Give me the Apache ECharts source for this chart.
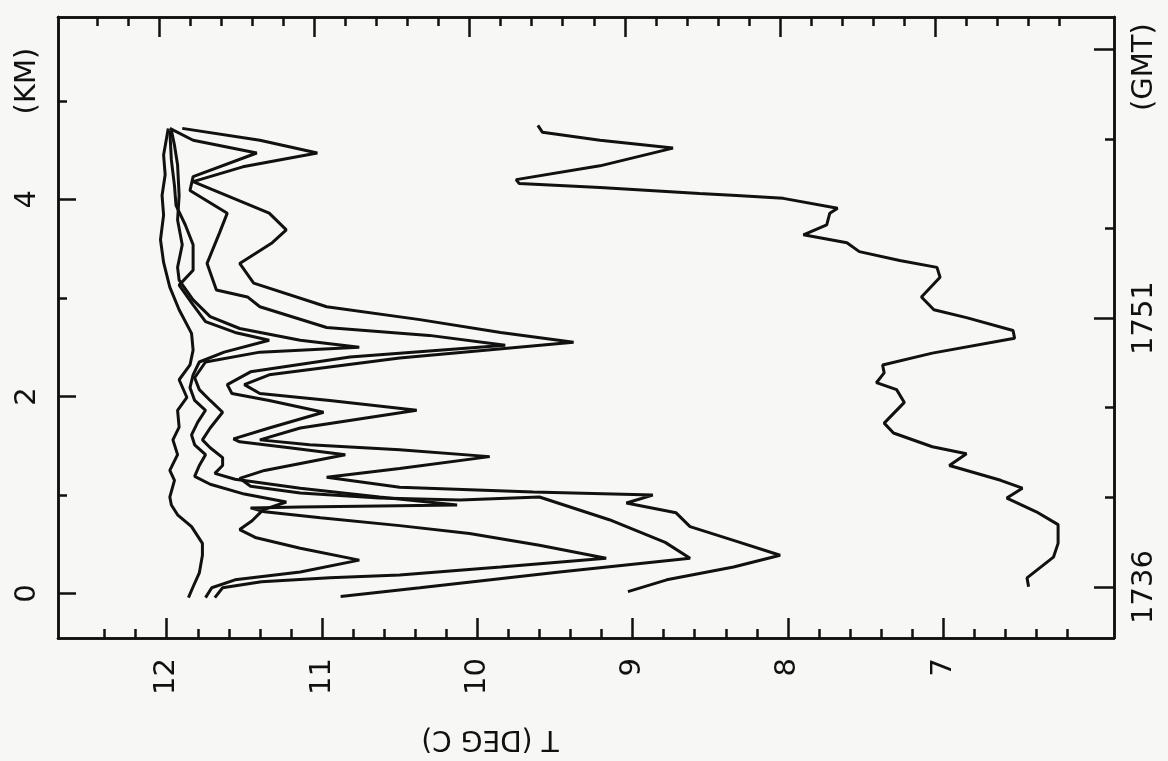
<!DOCTYPE html>
<html>
<head>
<meta charset="utf-8">
<script src="https://cdn.jsdelivr.net/npm/echarts@6/dist/echarts.min.js"></script>
<style>
  html, body { margin: 0; padding: 0; background: #f7f7f5; }
  #chart { width: 1168px; height: 761px; }
</style>
</head>
<body>
<div id="chart"></div>
<script>
// tick values
const tempMajor = [7, 8, 9, 10, 11, 12];
const tempMinor = [6.2, 6.4, 6.6, 6.8, 7.2, 7.4, 7.6, 7.8, 8.2, 8.4, 8.6, 8.8,
  9.2, 9.4, 9.6, 9.8, 10.2, 10.4, 10.6, 10.8, 11.2, 11.4, 11.6, 11.8, 12.2, 12.4];
const kmMajor = [0, 2, 4];
const kmMinor = [1, 3, 5];
const kmLabels = [0, 2, 4, 5.2];
// GMT axis in minutes after 17:36
const gmtMajor = [0, 15, 30];
const gmtMinor = [5, 10, 20, 25];
const gmtLabels = [0, 15, 29];
const gmtNames = { 0: "1736", 15: "1751", 29: "(GMT)" };

// profiles: [T (deg C), height (km)]
const profile1 = [[11.86, -0.04], [11.83, 0.07], [11.79, 0.21], [11.77, 0.39], [11.77, 0.51],
  [11.84, 0.68], [11.93, 0.80], [11.97, 0.90], [11.98, 0.98], [11.95, 1.15], [11.98, 1.25],
  [11.93, 1.41], [11.96, 1.56], [11.92, 1.69], [11.93, 1.86], [11.87, 1.99], [11.92, 2.17],
  [11.85, 2.32], [11.83, 2.47], [11.84, 2.64], [11.92, 2.88], [11.98, 3.11], [12.02, 3.36],
  [12.04, 3.59], [12.02, 3.84], [12.03, 4.04], [12.01, 4.25], [12.02, 4.45], [11.99, 4.72]];
const profile2 = [[11.75, -0.04], [11.71, 0.06], [11.56, 0.14], [11.14, 0.22], [10.76, 0.34],
  [11.14, 0.46], [11.43, 0.57], [11.53, 0.65], [11.45, 0.74], [11.38, 0.85], [11.23, 0.93],
  [11.50, 1.01], [11.72, 1.11], [11.82, 1.19], [11.79, 1.30], [11.75, 1.41], [11.82, 1.51],
  [11.84, 1.61], [11.80, 1.74], [11.75, 1.86], [11.82, 1.96], [11.85, 2.09], [11.83, 2.22],
  [11.79, 2.35], [11.63, 2.45], [11.34, 2.57], [11.56, 2.65], [11.75, 2.76], [11.83, 2.93],
  [11.92, 3.13], [11.83, 3.28], [11.83, 3.54], [11.88, 3.74], [11.94, 3.94], [11.95, 4.14],
  [11.97, 4.40], [11.98, 4.70]];
const profile3 = [[11.69, -0.04], [11.64, 0.06], [11.39, 0.12], [10.95, 0.16], [10.50, 0.19],
  [9.85, 0.27], [9.17, 0.36], [9.60, 0.49], [10.05, 0.61], [10.50, 0.69], [11.01, 0.77],
  [11.37, 0.83], [11.46, 0.87], [11.14, 0.88], [10.13, 0.90], [10.63, 0.98], [11.14, 1.07],
  [11.56, 1.16], [11.69, 1.22], [11.64, 1.30], [11.64, 1.38], [11.72, 1.48], [11.77, 1.56],
  [11.72, 1.68], [11.64, 1.84], [11.72, 1.96], [11.79, 2.07], [11.82, 2.19], [11.75, 2.35],
  [11.40, 2.45], [10.76, 2.50], [11.14, 2.57], [11.53, 2.69], [11.72, 2.81], [11.83, 2.98],
  [11.92, 3.18], [11.93, 3.31], [11.90, 3.54], [11.93, 3.79], [11.92, 4.04], [11.93, 4.35],
  [11.95, 4.55], [11.97, 4.70]];
const profile4 = [[10.88, -0.03], [10.37, 0.06], [9.47, 0.22], [8.63, 0.36], [8.79, 0.52],
  [9.15, 0.75], [9.60, 0.98], [10.11, 0.95], [10.63, 0.97], [11.14, 1.02], [11.46, 1.09],
  [11.53, 1.17], [11.37, 1.25], [10.85, 1.41], [11.21, 1.48], [11.53, 1.54], [11.57, 1.57],
  [11.34, 1.68], [10.99, 1.84], [11.34, 1.96], [11.58, 2.03], [11.61, 2.12], [11.46, 2.25],
  [10.82, 2.40], [9.82, 2.52], [10.31, 2.62], [10.97, 2.70], [11.40, 2.91], [11.48, 3.01],
  [11.68, 3.08], [11.74, 3.35], [11.66, 3.66], [11.61, 3.86], [11.85, 4.09], [11.83, 4.23],
  [11.42, 4.47], [11.83, 4.60], [11.98, 4.72]];
const profile5 = [[9.03, 0.02], [8.78, 0.14], [8.35, 0.27], [8.05, 0.39], [8.35, 0.54],
  [8.63, 0.68], [8.72, 0.82], [9.04, 0.92], [8.87, 1.00], [9.64, 1.03], [10.50, 1.08],
  [10.97, 1.18], [10.50, 1.27], [9.92, 1.39], [10.50, 1.46], [11.08, 1.51], [11.40, 1.56],
  [11.14, 1.68], [10.39, 1.86], [10.95, 1.96], [11.40, 2.03], [11.50, 2.12], [11.34, 2.22],
  [10.50, 2.39], [9.38, 2.55], [9.85, 2.65], [10.37, 2.78], [10.97, 2.91], [11.44, 3.15],
  [11.53, 3.35], [11.32, 3.56], [11.23, 3.69], [11.34, 3.86], [11.83, 4.18], [11.51, 4.33],
  [11.03, 4.47], [11.40, 4.60], [11.90, 4.72]];
const profile6 = [[6.45, 0.07], [6.46, 0.16], [6.29, 0.37], [6.26, 0.51], [6.26, 0.70],
  [6.40, 0.83], [6.59, 0.97], [6.49, 1.07], [6.63, 1.15], [6.96, 1.30], [6.85, 1.42],
  [7.07, 1.49], [7.32, 1.63], [7.38, 1.73], [7.25, 1.94], [7.30, 2.07], [7.43, 2.14],
  [7.38, 2.24], [7.39, 2.32], [7.07, 2.44], [6.54, 2.59], [6.55, 2.67], [6.85, 2.80],
  [7.06, 2.88], [7.14, 3.01], [7.02, 3.21], [7.04, 3.31], [7.28, 3.38], [7.54, 3.47],
  [7.62, 3.56], [7.90, 3.64], [7.75, 3.74], [7.73, 3.86], [7.68, 3.91], [8.03, 4.01],
  [8.33, 4.04], [8.57, 4.06], [9.21, 4.12], [9.73, 4.16], [9.75, 4.20], [9.21, 4.34],
  [8.74, 4.52], [9.21, 4.60], [9.58, 4.68], [9.61, 4.75]];

const ink = "#111111";
const font = "DejaVu Sans";

var myChart = echarts.init(document.getElementById("chart"));

function frameAxis(extra) {
  return Object.assign({
    type: "value",
    axisLine: { show: true, onZero: false, lineStyle: { color: ink, width: 2.5 } },
    splitLine: { show: false },
    axisLabel: { show: false },
  }, extra);
}

function ticks(values, len) {
  return {
    show: true,
    inside: true,
    length: len,
    customValues: values,
    lineStyle: { color: ink, width: 2.5 },
  };
}

const tempRange = { min: 5.9, max: 12.7, inverse: true };
// the top edge of the scanned frame sits a little to the left
const tempRangeTop = { min: 5.85, max: 12.65, inverse: true };
const kmRange = { min: -0.45, max: 5.85 };
const gmtRange = { min: -2.84, max: 31.79 };

var option = {
  backgroundColor: "#f7f7f5",
  animation: false,
  grid: { left: 58, right: 54, top: 17, bottom: 123 },
  xAxis: [
    frameAxis(Object.assign({
      position: "bottom",
      axisTick: ticks(tempMajor, 20),
      axisLabel: {
        show: true,
        customValues: tempMajor,
        rotate: 90,
        margin: 20,
        color: ink,
        fontFamily: font,
        fontSize: 29,
      },
      name: "T (DEG C)",
      nameLocation: "middle",
      nameRotate: 180,
      nameGap: 86,
      nameTextStyle: { color: ink, fontFamily: font, fontSize: 28, padding: [0, 0, 0, 192] },
    }, tempRange)),
    frameAxis(Object.assign({ position: "bottom", axisTick: ticks(tempMinor, 9) }, tempRange)),
    frameAxis(Object.assign({ position: "top", axisTick: ticks(tempMajor, 20) }, tempRangeTop)),
    frameAxis(Object.assign({ position: "top", axisTick: ticks(tempMinor, 9) }, tempRangeTop)),
  ],
  yAxis: [
    frameAxis(Object.assign({
      position: "left",
      axisTick: ticks(kmMajor, 18),
      axisLabel: {
        show: true,
        customValues: kmLabels,
        rotate: 90,
        margin: 16,
        color: ink,
        fontFamily: font,
        fontSize: 29,
        formatter: function(v) {
          return v === 5.2 ? "(KM)" : String(v);
        },
      },
    }, kmRange)),
    frameAxis(Object.assign({ position: "left", axisTick: ticks(kmMinor, 9) }, kmRange)),
    frameAxis(Object.assign({
      position: "right",
      axisTick: ticks(gmtMajor, 20),
      axisLabel: {
        show: true,
        customValues: gmtLabels,
        rotate: 90,
        margin: 16,
        color: ink,
        fontFamily: font,
        fontSize: 29,
        formatter: function(v) {
          return gmtNames[v];
        },
      },
    }, gmtRange)),
    frameAxis(Object.assign({ position: "right", axisTick: ticks(gmtMinor, 9) }, gmtRange)),
  ],
  series: [profile1, profile2, profile3, profile4, profile5, profile6].map(function(d) {
    return {
      type: "line",
      xAxisIndex: 0,
      yAxisIndex: 0,
      data: d,
      symbol: "none",
      smooth: false,
      lineStyle: { color: ink, width: 3 },
    };
  }),
};

option && myChart.setOption(option);
</script>
</body>
</html>
